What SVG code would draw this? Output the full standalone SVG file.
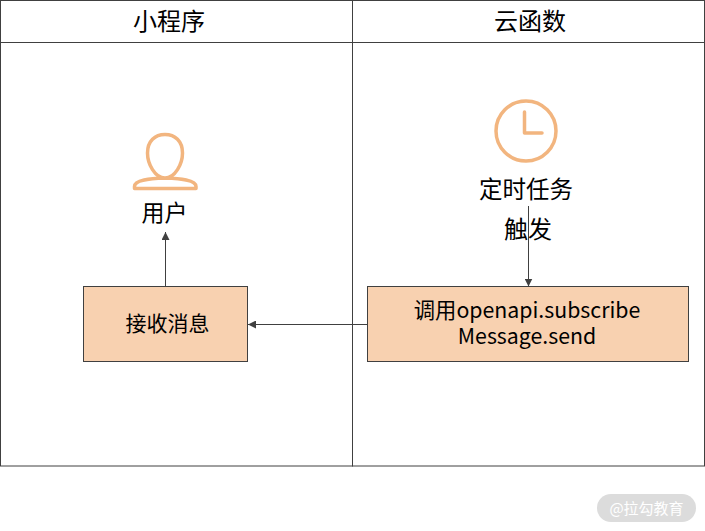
<svg xmlns="http://www.w3.org/2000/svg" width="705" height="531" viewBox="0 0 705 531">
<defs>
<style>
text{font-family:"Noto Sans CJK SC","Noto Sans",sans-serif;fill:#000;text-anchor:middle}
.frame{fill:none;stroke:#404040;stroke-width:1}
.box{fill:#f8d1b0;stroke:#404040;stroke-width:1}
.icon{fill:none;stroke:#f2b57f;stroke-linecap:round;stroke-linejoin:round}
.conn{fill:none;stroke:#404040;stroke-width:1;marker-end:url(#arr)}
</style>
<marker id="arr" markerUnits="userSpaceOnUse" markerWidth="9" markerHeight="8" refX="8" refY="4" orient="auto"><path d="M0 0L8 4L0 8Z" fill="#404040"/></marker>
</defs>
<rect width="705" height="531" fill="#fff"/>
<g id="lane-miniprogram">
<rect class="frame" x="0.5" y="0.5" width="352" height="465.5"/>
<line class="frame" x1="0.5" y1="42.5" x2="352.5" y2="42.5"/>
<text x="169" y="30" font-size="24">小程序</text>
</g>
<g id="lane-cloud">
<rect class="frame" x="352.5" y="0.5" width="352" height="465.5"/>
<line class="frame" x1="352.5" y1="42.5" x2="704.5" y2="42.5"/>
<text x="530" y="30" font-size="24">云函数</text>
</g>
<g id="connectors">
<path class="conn" d="M165.500 286.500V232"/>
<path class="conn" d="M367 324.500H248"/>
<path class="conn" d="M528.500 206V286.500"/>
</g>
<g id="user">
<path class="icon" stroke-width="3.500" d="M165 178C155 178 147.500 164 147.500 153C147.500 141 155 134.500 165 134.500C175 134.500 182.500 141 182.500 153C182.500 164 175 178 165 178ZM165 178C150 178.500 134.500 180 134.500 186.500V188.500H196V186.500C196 180 180 178.500 165 178Z"/>
<text x="164.500" y="221" font-size="23">用户</text>
</g>
<g id="timer">
<circle class="icon" stroke-width="3.500" cx="526" cy="131" r="30"/>
<path class="icon" stroke-width="3.500" d="M524.500 112V133H542"/>
<text x="526" y="198" font-size="23.500">定时任务</text>
</g>
<g id="trigger-label"><text x="528" y="238" font-size="24">触发</text></g>
<g id="receive">
<rect class="box" x="83.500" y="286.500" width="164" height="75"/>
<text x="167.500" y="331" font-size="21">接收消息</text>
</g>
<g id="call">
<rect class="box" x="367.500" y="286.500" width="321" height="75"/>
<text x="527" y="317.500" font-size="21.300">调用openapi.subscribe</text>
<text x="527" y="343.500" font-size="21.300">Message.send</text>
</g>
<g id="watermark">
<rect x="597" y="494" width="99" height="28" rx="14" fill="#dcdcdc"/>
<text x="646.500" y="514" font-size="15" style="fill:#fff">@拉勾教育</text>
</g>
</svg>
